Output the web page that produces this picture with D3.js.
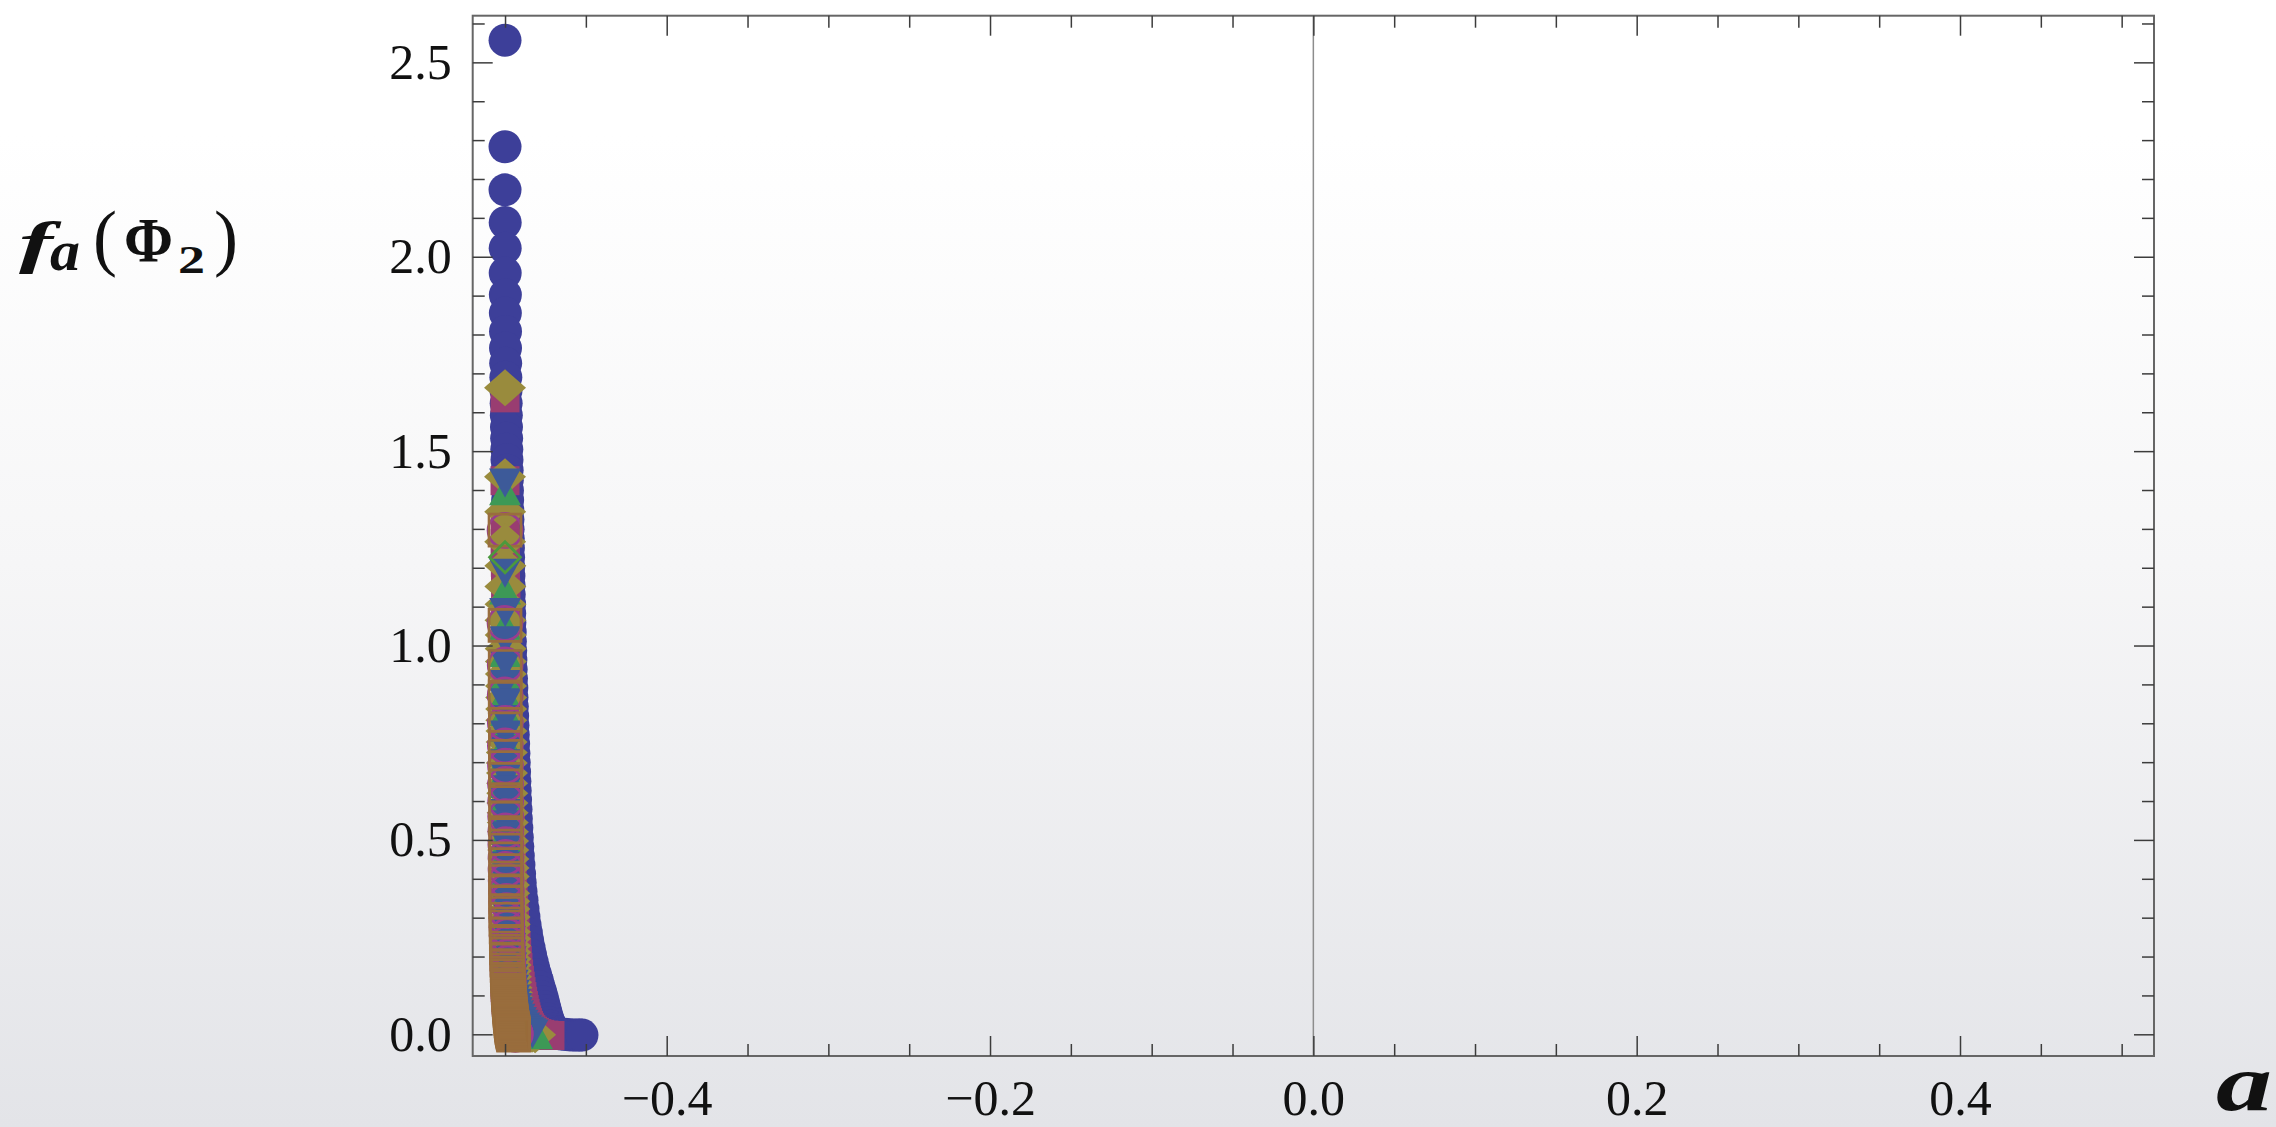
<!DOCTYPE html>
<html>
<head>
<meta charset="utf-8">
<script src="https://cdn.jsdelivr.net/npm/d3@7"></script>
<style>
  html, body { margin: 0; padding: 0; background: #ffffff; }
  svg { display: block; }
  .tick text { font-family: "Liberation Serif", "Times New Roman", serif; font-size: 50px; fill: #111; }
  .tick line { stroke: #3c3c3c; stroke-width: 1.5; }
  .axis path.domain { display: none; }
</style>
</head>
<body>
<svg class="chart" width="2276" height="1127"></svg>
<script>
document.addEventListener("DOMContentLoaded", function(){

  // ---- data: [a, f_a(Phi_2)] ----
  const seriesCircle = [
    [-0.5000, 2.557], [-0.5000, 2.283], [-0.5000, 2.172], [-0.4999, 2.088], [-0.4999, 2.022], [-0.4999, 1.958],
    [-0.4998, 1.902], [-0.4998, 1.855], [-0.4997, 1.808], [-0.4997, 1.765], [-0.4996, 1.726], [-0.4995, 1.690],
    [-0.4994, 1.656], [-0.4993, 1.623], [-0.4992, 1.592], [-0.4991, 1.562], [-0.4990, 1.533], [-0.4989, 1.505],
    [-0.4988, 1.478], [-0.4987, 1.451], [-0.4986, 1.425], [-0.4985, 1.399], [-0.4984, 1.374], [-0.4983, 1.349],
    [-0.4982, 1.324], [-0.4981, 1.299], [-0.4980, 1.275], [-0.4979, 1.251], [-0.4978, 1.227], [-0.4977, 1.203],
    [-0.4976, 1.179], [-0.4975, 1.155], [-0.4974, 1.131], [-0.4972, 1.107], [-0.4971, 1.083], [-0.4970, 1.059],
    [-0.4968, 1.035], [-0.4967, 1.011], [-0.4965, 0.987], [-0.4964, 0.963], [-0.4962, 0.939], [-0.4960, 0.915],
    [-0.4958, 0.891], [-0.4957, 0.867], [-0.4955, 0.843], [-0.4953, 0.819], [-0.4951, 0.795], [-0.4949, 0.771],
    [-0.4947, 0.747], [-0.4945, 0.723], [-0.4943, 0.699], [-0.4941, 0.675], [-0.4939, 0.651], [-0.4937, 0.627],
    [-0.4935, 0.603], [-0.4932, 0.579], [-0.4930, 0.555], [-0.4927, 0.531], [-0.4924, 0.507], [-0.4921, 0.483],
    [-0.4918, 0.459], [-0.4914, 0.436], [-0.4910, 0.413], [-0.4906, 0.390], [-0.4901, 0.367], [-0.4895, 0.345],
    [-0.4889, 0.323], [-0.4883, 0.302], [-0.4876, 0.281], [-0.4868, 0.261], [-0.4860, 0.241], [-0.4851, 0.222],
    [-0.4842, 0.204], [-0.4832, 0.186], [-0.4822, 0.169], [-0.4811, 0.153], [-0.4800, 0.138], [-0.4790, 0.123],
    [-0.4780, 0.109], [-0.4771, 0.096], [-0.4763, 0.083], [-0.4756, 0.071], [-0.4749, 0.060], [-0.4742, 0.049],
    [-0.4735, 0.039], [-0.4727, 0.030], [-0.4718, 0.021], [-0.4705, 0.013], [-0.4690, 0.007], [-0.4672, 0.003],
    [-0.4652, 0.001], [-0.4630, 0.000], [-0.4607, -0.001], [-0.4584, -0.002], [-0.4561, -0.002], [-0.4540, -0.002],
    [-0.4524, -0.002]
  ];

  const seriesSquare = [
    [-0.5000, 1.637], [-0.5000, 1.424], [-0.4999, 1.323], [-0.4999, 1.262], [-0.4998, 1.214], [-0.4997, 1.172],
    [-0.4996, 1.136], [-0.4995, 1.103], [-0.4994, 1.072], [-0.4993, 1.043], [-0.4992, 1.015], [-0.4991, 0.988],
    [-0.4990, 0.961], [-0.4989, 0.935], [-0.4988, 0.909], [-0.4987, 0.883], [-0.4986, 0.857], [-0.4985, 0.831],
    [-0.4984, 0.806], [-0.4983, 0.781], [-0.4982, 0.756], [-0.4981, 0.731], [-0.4980, 0.706], [-0.4979, 0.681],
    [-0.4978, 0.657], [-0.4976, 0.633], [-0.4974, 0.609], [-0.4972, 0.585], [-0.4970, 0.561], [-0.4968, 0.537],
    [-0.4966, 0.513], [-0.4964, 0.489], [-0.4962, 0.466], [-0.4960, 0.443], [-0.4958, 0.420], [-0.4956, 0.397],
    [-0.4953, 0.375], [-0.4950, 0.353], [-0.4947, 0.331], [-0.4944, 0.310], [-0.4941, 0.289], [-0.4938, 0.268],
    [-0.4935, 0.248], [-0.4932, 0.228], [-0.4928, 0.209], [-0.4924, 0.190], [-0.4920, 0.172], [-0.4916, 0.155],
    [-0.4911, 0.139], [-0.4906, 0.124], [-0.4901, 0.110], [-0.4896, 0.097], [-0.4891, 0.085], [-0.4886, 0.074],
    [-0.4881, 0.064], [-0.4876, 0.054], [-0.4871, 0.045], [-0.4866, 0.037], [-0.4861, 0.030], [-0.4855, 0.023],
    [-0.4848, 0.017], [-0.4840, 0.012], [-0.4830, 0.008], [-0.4818, 0.005], [-0.4803, 0.002], [-0.4785, 0.000],
    [-0.4760, -0.002], [-0.4740, -0.003], [-0.4722, -0.003]
  ];

  const seriesDiamond = [
    [-0.5000, 1.663], [-0.5000, 1.434], [-0.4999, 1.344], [-0.4999, 1.267], [-0.4998, 1.205], [-0.4998, 1.152],
    [-0.4997, 1.106], [-0.4997, 1.065], [-0.4996, 1.027], [-0.4996, 0.992], [-0.4995, 0.959], [-0.4995, 0.927],
    [-0.4994, 0.896], [-0.4993, 0.866], [-0.4993, 0.837], [-0.4992, 0.808], [-0.4991, 0.780], [-0.4990, 0.752],
    [-0.4989, 0.725], [-0.4989, 0.698], [-0.4988, 0.672], [-0.4987, 0.646], [-0.4986, 0.620], [-0.4985, 0.595],
    [-0.4984, 0.570], [-0.4983, 0.545], [-0.4982, 0.521], [-0.4981, 0.497], [-0.4980, 0.474], [-0.4979, 0.451],
    [-0.4978, 0.428], [-0.4977, 0.406], [-0.4976, 0.384], [-0.4975, 0.363], [-0.4974, 0.342], [-0.4973, 0.322],
    [-0.4972, 0.302], [-0.4971, 0.283], [-0.4970, 0.264], [-0.4969, 0.246], [-0.4968, 0.228], [-0.4967, 0.211],
    [-0.4966, 0.194], [-0.4965, 0.178], [-0.4964, 0.163], [-0.4963, 0.148], [-0.4962, 0.134], [-0.4960, 0.120],
    [-0.4958, 0.107], [-0.4956, 0.095], [-0.4953, 0.083], [-0.4950, 0.072], [-0.4946, 0.062], [-0.4941, 0.052],
    [-0.4935, 0.043], [-0.4928, 0.035], [-0.4920, 0.027], [-0.4910, 0.020], [-0.4898, 0.014], [-0.4884, 0.009],
    [-0.4868, 0.005], [-0.4851, 0.002], [-0.4833, 0.000], [-0.4814, -0.001]
  ];

  const seriesTriangleUp = [
    [-0.5000, 1.398], [-0.5000, 1.143], [-0.4999, 1.052], [-0.4999, 0.982], [-0.4998, 0.925], [-0.4998, 0.875],
    [-0.4997, 0.830], [-0.4997, 0.789], [-0.4996, 0.750], [-0.4995, 0.713], [-0.4995, 0.678], [-0.4994, 0.645],
    [-0.4993, 0.613], [-0.4992, 0.583], [-0.4991, 0.553], [-0.4990, 0.525], [-0.4989, 0.498], [-0.4988, 0.472],
    [-0.4987, 0.446], [-0.4986, 0.421], [-0.4985, 0.397], [-0.4984, 0.374], [-0.4982, 0.352], [-0.4980, 0.330],
    [-0.4978, 0.309], [-0.4976, 0.289], [-0.4974, 0.269], [-0.4972, 0.250], [-0.4970, 0.232], [-0.4968, 0.214],
    [-0.4966, 0.197], [-0.4963, 0.181], [-0.4960, 0.165], [-0.4957, 0.150], [-0.4954, 0.136], [-0.4951, 0.122],
    [-0.4947, 0.109], [-0.4943, 0.097], [-0.4938, 0.085], [-0.4933, 0.074], [-0.4927, 0.064], [-0.4920, 0.054],
    [-0.4912, 0.045], [-0.4903, 0.036], [-0.4893, 0.028], [-0.4882, 0.021], [-0.4870, 0.015], [-0.4857, 0.010],
    [-0.4843, 0.006], [-0.4829, 0.003], [-0.4815, 0.001], [-0.4802, -0.001]
  ];

  const seriesTriangleDown = [
    [-0.5000, 1.418], [-0.5000, 1.186], [-0.4999, 1.085], [-0.4999, 1.012], [-0.4998, 0.952], [-0.4998, 0.900],
    [-0.4997, 0.853], [-0.4997, 0.810], [-0.4996, 0.770], [-0.4995, 0.732], [-0.4995, 0.696], [-0.4994, 0.662],
    [-0.4993, 0.629], [-0.4992, 0.598], [-0.4991, 0.568], [-0.4990, 0.539], [-0.4989, 0.511], [-0.4988, 0.484],
    [-0.4987, 0.458], [-0.4986, 0.433], [-0.4985, 0.409], [-0.4984, 0.386], [-0.4983, 0.363], [-0.4981, 0.341],
    [-0.4979, 0.320], [-0.4977, 0.299], [-0.4975, 0.279], [-0.4973, 0.260], [-0.4971, 0.241], [-0.4969, 0.223],
    [-0.4967, 0.206], [-0.4965, 0.189], [-0.4962, 0.173], [-0.4959, 0.158], [-0.4956, 0.143], [-0.4953, 0.129],
    [-0.4950, 0.116], [-0.4946, 0.103], [-0.4942, 0.091], [-0.4937, 0.080], [-0.4932, 0.069], [-0.4926, 0.059],
    [-0.4919, 0.050], [-0.4911, 0.041], [-0.4902, 0.033], [-0.4892, 0.026], [-0.4881, 0.019], [-0.4869, 0.013],
    [-0.4856, 0.008], [-0.4843, 0.004], [-0.4830, 0.001]
  ];

  const seriesOpenCircle = [
    [-0.5000, 1.296], [-0.5000, 1.057], [-0.4999, 0.950], [-0.4999, 0.873], [-0.4998, 0.800], [-0.4998, 0.742],
    [-0.4997, 0.690], [-0.4997, 0.643], [-0.4996, 0.600], [-0.4996, 0.560], [-0.4995, 0.523], [-0.4995, 0.488],
    [-0.4994, 0.455], [-0.4994, 0.424], [-0.4993, 0.395], [-0.4992, 0.368], [-0.4991, 0.342], [-0.4990, 0.318],
    [-0.4989, 0.295], [-0.4988, 0.273], [-0.4987, 0.253], [-0.4986, 0.234], [-0.4985, 0.216], [-0.4984, 0.199],
    [-0.4983, 0.183], [-0.4982, 0.168], [-0.4981, 0.154], [-0.4980, 0.141], [-0.4979, 0.128], [-0.4978, 0.116],
    [-0.4977, 0.105], [-0.4976, 0.095], [-0.4975, 0.085], [-0.4974, 0.076], [-0.4972, 0.067], [-0.4970, 0.059],
    [-0.4968, 0.051], [-0.4966, 0.044], [-0.4964, 0.037], [-0.4961, 0.031], [-0.4958, 0.025], [-0.4955, 0.020],
    [-0.4952, 0.015], [-0.4948, 0.011], [-0.4944, 0.007], [-0.4940, 0.004], [-0.4938, 0.002], [-0.4936, 0.000]
  ];

  const seriesOpenSquare = [
    [-0.5000, 1.297], [-0.5000, 1.052], [-0.4999, 0.946], [-0.4999, 0.868], [-0.4998, 0.797], [-0.4998, 0.738],
    [-0.4997, 0.686], [-0.4997, 0.639], [-0.4996, 0.596], [-0.4996, 0.556], [-0.4995, 0.519], [-0.4995, 0.484],
    [-0.4995, 0.451], [-0.4995, 0.421], [-0.4995, 0.393], [-0.4995, 0.366], [-0.4995, 0.341], [-0.4994, 0.318],
    [-0.4994, 0.296], [-0.4993, 0.276], [-0.4992, 0.257], [-0.4991, 0.239], [-0.4990, 0.222], [-0.4989, 0.206],
    [-0.4988, 0.191], [-0.4987, 0.177], [-0.4986, 0.166], [-0.4985, 0.158], [-0.4984, 0.150], [-0.4983, 0.142],
    [-0.4982, 0.135], [-0.4981, 0.128], [-0.4980, 0.121], [-0.4979, 0.114], [-0.4978, 0.108], [-0.4977, 0.102],
    [-0.4976, 0.096], [-0.4975, 0.090], [-0.4974, 0.085], [-0.4973, 0.080], [-0.4972, 0.075], [-0.4971, 0.070],
    [-0.4970, 0.065], [-0.4969, 0.060], [-0.4968, 0.056], [-0.4967, 0.052], [-0.4966, 0.048], [-0.4965, 0.044],
    [-0.4964, 0.040], [-0.4963, 0.036], [-0.4962, 0.033], [-0.4961, 0.030], [-0.4960, 0.027], [-0.4959, 0.024],
    [-0.4958, 0.021], [-0.4957, 0.018], [-0.4956, 0.016], [-0.4955, 0.014], [-0.4954, 0.012], [-0.4953, 0.010],
    [-0.4952, 0.008], [-0.4951, 0.006], [-0.4950, 0.004], [-0.4949, 0.002], [-0.4948, 0.000], [-0.4947, -0.002]
  ];

  const seriesOpenDiamond = [
    [-0.5000, 1.227]
  ];

  const xMajorTicks = [-0.4, -0.2, 0.0, 0.2, 0.4];
  const xMinorTicks = [-0.5, -0.45, -0.35, -0.3, -0.25, -0.15, -0.1, -0.05, 0.05, 0.1, 0.15, 0.25, 0.3, 0.35, 0.45, 0.5];
  const yMajorTicks = [0.0, 0.5, 1.0, 1.5, 2.0, 2.5];
  const yMinorTicks = [0.1, 0.2, 0.3, 0.4, 0.6, 0.7, 0.8, 0.9, 1.1, 1.2, 1.3, 1.4, 1.6, 1.7, 1.8, 1.9, 2.1, 2.2, 2.3, 2.4, 2.6];

  // ---- layout ----
  const svg = d3.select(".chart");
  const width = 2276, height = 1127;
  const frame = {left: 472.7, right: 2154, top: 15.7, bottom: 1056};

  const x = d3.scaleLinear().domain([-0.52, 0.52]).range([frame.left, frame.right]);
  const y = d3.scaleLinear().domain([-0.0558, 2.62]).range([frame.bottom, frame.top]);

  // background gradient
  const defs = svg.append("defs");
  const grad = defs.append("linearGradient").attr("id", "bg").attr("x1", 0).attr("y1", 0).attr("x2", 0).attr("y2", 1);
  grad.append("stop").attr("offset", "0").attr("stop-color", "#ffffff");
  grad.append("stop").attr("offset", "0.12").attr("stop-color", "#ffffff");
  grad.append("stop").attr("offset", "0.5").attr("stop-color", "#f6f6f7");
  grad.append("stop").attr("offset", "1").attr("stop-color", "#e3e4e8");
  svg.append("rect").attr("width", width).attr("height", height).attr("fill", "url(#bg)");

  // marker shapes (glyph-like, fixed pixel size)
  const circleType = r => ({ draw(ctx){ ctx.moveTo(r, 0); ctx.arc(0, 0, r, 0, 2 * Math.PI); ctx.closePath(); } });
  const squareType = s => ({ draw(ctx){ ctx.rect(-s / 2, -s / 2, s, s); } });
  const diamondType = (w, h) => ({ draw(ctx){ ctx.moveTo(0, -h / 2); ctx.lineTo(w / 2, 0); ctx.lineTo(0, h / 2); ctx.lineTo(-w / 2, 0); ctx.closePath(); } });
  const triangleType = (w, h, up) => ({ draw(ctx){
    const s = up ? 1 : -1;
    ctx.moveTo(0, -s * h / 2); ctx.lineTo(w / 2, s * h / 2); ctx.lineTo(-w / 2, s * h / 2); ctx.closePath();
  } });

  const layers = [
    {data: seriesCircle,       type: circleType(16.5),          fill: "#3d3f99", stroke: "none"},
    {data: seriesSquare,       type: squareType(29),            fill: "#993d71", stroke: "none"},
    {data: seriesDiamond,      type: diamondType(42, 37),       fill: "#998b3d", stroke: "none"},
    {data: seriesTriangleUp,   type: triangleType(32, 29, true),  fill: "#3d9956", stroke: "none"},
    {data: seriesTriangleDown, type: triangleType(32, 29, false), fill: "#3d5a99", stroke: "none"},
    {data: seriesOpenCircle,   type: circleType(17),            fill: "none", stroke: "#993d8f"},
    {data: seriesOpenSquare,   type: squareType(32),            fill: "none", stroke: "#996d3d"},
    {data: seriesOpenDiamond,  type: diamondType(31, 31),       fill: "none", stroke: "#4b993d"}
  ];

  // axis at a = 0
  svg.append("line")
     .attr("x1", x(0)).attr("x2", x(0))
     .attr("y1", frame.top).attr("y2", frame.bottom)
     .attr("stroke", "#8d8d8d").attr("stroke-width", 1.5);

  const plot = svg.append("g").attr("class", "points");
  layers.forEach((layer, i) => {
    plot.append("g")
        .attr("class", "series series-" + i)
        .selectAll("path")
        .data(layer.data)
        .enter()
        .append("path")
        .attr("transform", d => `translate(${x(d[0])},${y(d[1])})`)
        .attr("d", d3.symbol().type(layer.type))
        .attr("fill", layer.fill)
        .attr("stroke", layer.stroke)
        .attr("stroke-width", layer.stroke === "none" ? 0 : 2.7);
  });

  // frame
  svg.append("rect")
     .attr("x", frame.left).attr("y", frame.top)
     .attr("width", frame.right - frame.left).attr("height", frame.bottom - frame.top)
     .attr("fill", "none").attr("stroke", "#666").attr("stroke-width", 2);

  const fmt = d3.format(".1f");
  const noLabel = () => "";

  // bottom + top ticks
  svg.append("g").attr("class", "axis").attr("transform", `translate(0,${frame.bottom})`)
     .call(d3.axisBottom(x).tickValues(xMajorTicks).tickSize(-20).tickPadding(23).tickFormat(fmt));
  svg.append("g").attr("class", "axis").attr("transform", `translate(0,${frame.bottom})`)
     .call(d3.axisBottom(x).tickValues(xMinorTicks).tickSize(-12).tickFormat(noLabel));
  svg.append("g").attr("class", "axis").attr("transform", `translate(0,${frame.top})`)
     .call(d3.axisTop(x).tickValues(xMajorTicks).tickSize(-20).tickFormat(noLabel));
  svg.append("g").attr("class", "axis").attr("transform", `translate(0,${frame.top})`)
     .call(d3.axisTop(x).tickValues(xMinorTicks).tickSize(-12).tickFormat(noLabel));

  // left + right ticks
  svg.append("g").attr("class", "axis").attr("transform", `translate(${frame.left},0)`)
     .call(d3.axisLeft(y).tickValues(yMajorTicks).tickSize(-20).tickPadding(21).tickFormat(fmt));
  svg.append("g").attr("class", "axis").attr("transform", `translate(${frame.left},0)`)
     .call(d3.axisLeft(y).tickValues(yMinorTicks).tickSize(-12).tickFormat(noLabel));
  svg.append("g").attr("class", "axis").attr("transform", `translate(${frame.right},0)`)
     .call(d3.axisRight(y).tickValues(yMajorTicks).tickSize(-20).tickFormat(noLabel));
  svg.append("g").attr("class", "axis").attr("transform", `translate(${frame.right},0)`)
     .call(d3.axisRight(y).tickValues(yMinorTicks).tickSize(-12).tickFormat(noLabel));

  // axis labels: each glyph of f_a(Φ_2) placed on its own
  const serif = '"Liberation Serif", "Times New Roman", serif';
  const yLabelGlyphs = [
    {t: "f", x: 19,  y: 262, size: 58, w: 34, bold: true, italic: true},
    {t: "a", x: 50,  y: 270, size: 56, w: 30, bold: true, italic: true},
    {t: "(", x: 93,  y: 262, size: 73, w: 24, bold: false, italic: false},
    {t: "Φ", x: 124, y: 262, size: 64, w: 49, bold: true, italic: false},
    {t: "2", x: 178, y: 273, size: 40, w: 27, bold: true, italic: false},
    {t: ")", x: 214, y: 262, size: 73, w: 24, bold: false, italic: false}
  ];
  svg.append("g").attr("class", "y-label")
     .selectAll("text")
     .data(yLabelGlyphs)
     .enter()
     .append("text")
     .attr("x", d => d.x).attr("y", d => d.y)
     .attr("font-family", serif).attr("font-size", d => d.size)
     .attr("font-weight", d => d.bold ? "bold" : "normal")
     .attr("font-style", d => d.italic ? "italic" : "normal")
     .attr("textLength", d => d.w).attr("lengthAdjust", "spacingAndGlyphs")
     .attr("fill", "#111")
     .text(d => d.t);

  svg.append("text").attr("class", "x-label")
     .attr("x", 2216).attr("y", 1110)
     .attr("font-family", serif).attr("font-size", 80)
     .attr("font-weight", "bold").attr("font-style", "italic")
     .attr("textLength", 56).attr("lengthAdjust", "spacingAndGlyphs")
     .attr("fill", "#111").text("a");

});
</script>
</body>
</html>
